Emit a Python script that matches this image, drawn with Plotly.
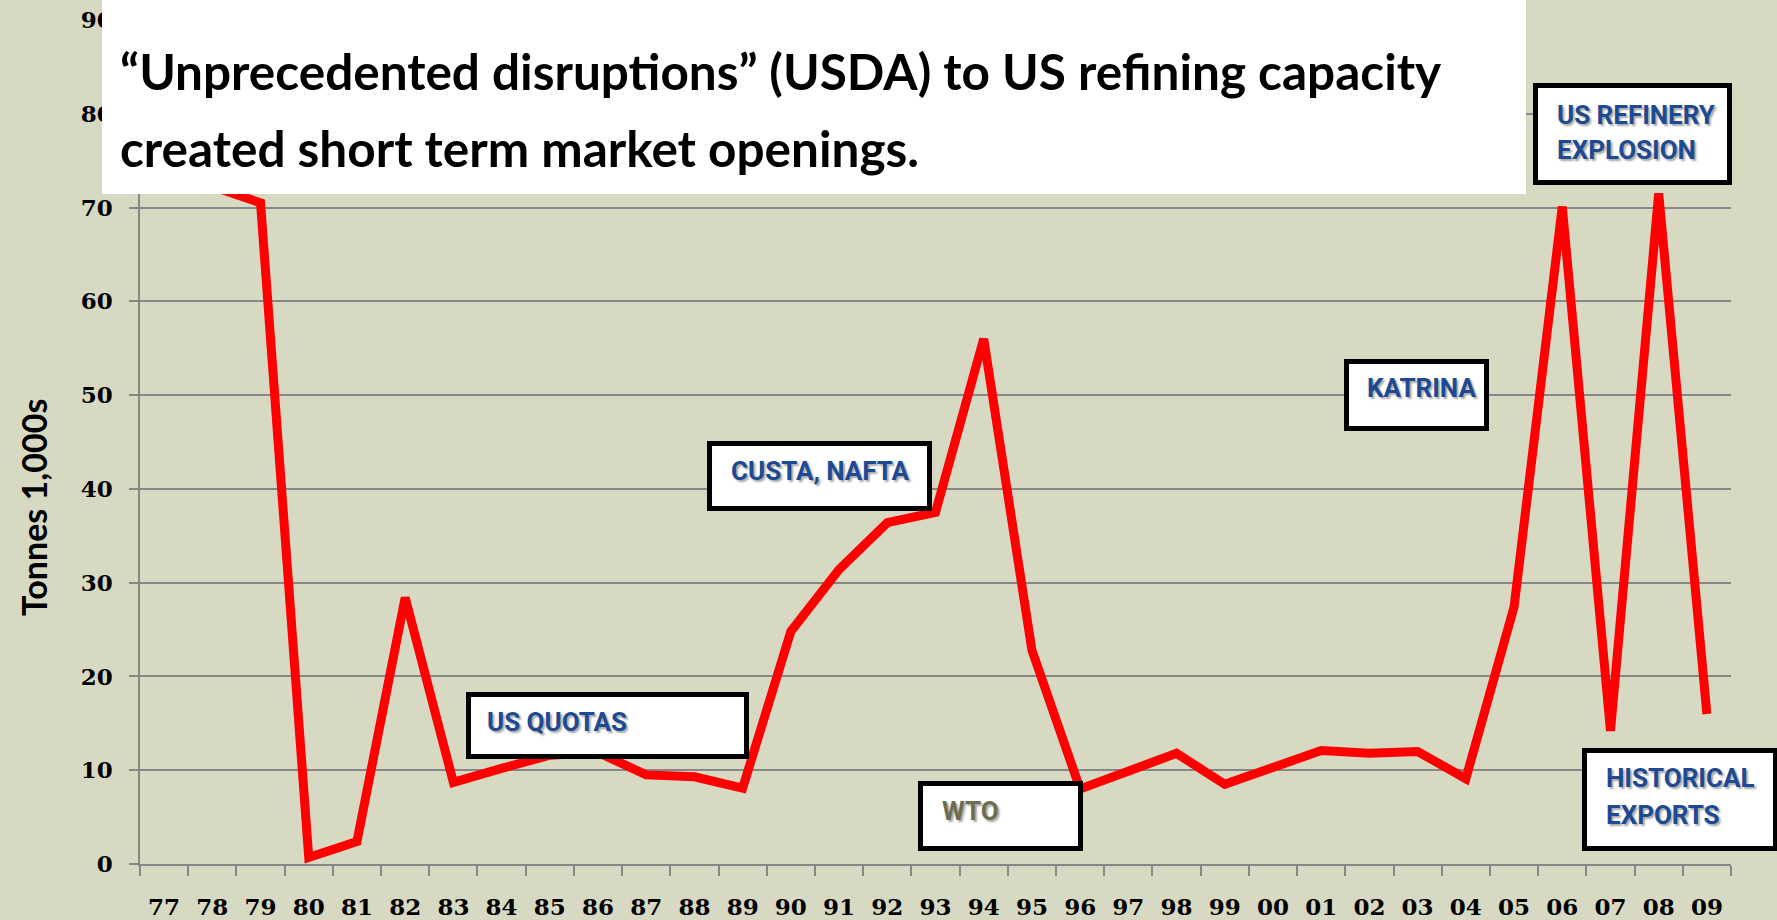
import plotly.graph_objects as go

# ---------------- data ----------------
years = ["77", "78", "79", "80", "81", "82", "83", "84", "85", "86", "87", "88",
         "89", "90", "91", "92", "93", "94", "95", "96", "97", "98", "99", "00",
         "01", "02", "03", "04", "05", "06", "07", "08", "09"]
exports = [74.0, 72.3, 70.5, 0.7, 2.4, 28.4, 8.7, 10.2, 11.6, 11.9, 9.5, 9.3,
           8.1, 24.8, 31.4, 36.4, 37.5, 56.0, 22.8, 8.0, 10.0, 11.8, 8.5, 10.3,
           12.1, 11.8, 12.0, 9.1, 27.4, 70.1, 14.2, 71.5, 16.0]
y_ticks = [0, 10, 20, 30, 40, 50, 60, 70, 80, 90]
y_title = "Tonnes 1,000s"
headline = ["\u201cUnprecedented disruptions\u201d (USDA) to US refining capacity",
            "created short term market openings."]
event_labels = ["US QUOTAS", "WTO", "CUSTA, NAFTA", "KATRINA",
                "US REFINERY", "EXPLOSION", "HISTORICAL", "EXPORTS"]

# ---------------- layout geometry (pixels) ----------------
W, H = 1777, 920
X0, X1 = 140, 1731      # plot area left/right
Y1, Y0 = 20, 864        # plot area top/bottom

def px(x):
    return (x - X0) / (X1 - X0)

def py(y):
    return (Y0 - y) / (Y0 - Y1)

BG = "#D8D9C2"
GRID = "#878787"
BLUE = "#1C4A93"
OLIVE = "#6B6E4E"
LABEL_FONT = "Roboto, Liberation Sans, sans-serif"
TICK_FONT = "DejaVu Serif, serif"
HEAD_FONT = "Lato, Noto Sans, sans-serif"

fig = go.Figure()
fig.add_trace(go.Scatter(
    x=years, y=exports, mode="lines",
    line=dict(color="#FF0000", width=9),
    hoverinfo="skip", showlegend=False,
))

shapes = []
annotations = []

def box(x0, y0, x1, y1, lw=5):
    shapes.append(dict(type="rect", xref="paper", yref="paper",
                       x0=px(x0 + lw / 2), x1=px(x1 - lw / 2),
                       y0=py(y1 - lw / 2), y1=py(y0 + lw / 2),
                       line=dict(color="black", width=lw),
                       fillcolor="white", layer="above"))

def label(text, x, y, color=BLUE, size=26):
    annotations.append(dict(text=text, xref="paper", yref="paper",
                            x=px(x), y=py(y), xanchor="left", yanchor="middle",
                            showarrow=False,
                            font=dict(family=LABEL_FONT, size=size, color=color,
                                      weight="bold",
                                      shadow="2px 2px 2px rgba(0,0,0,0.35)")))

# headline white panel
shapes.append(dict(type="rect", xref="paper", yref="paper",
                   x0=px(102), x1=px(1526), y0=py(194), y1=py(-10),
                   line=dict(width=0), fillcolor="white", layer="above"))
for txt, yc in zip(headline, [71, 148]):
    annotations.append(dict(text=txt, xref="paper", yref="paper",
                            x=px(118), y=py(yc), xanchor="left", yanchor="middle",
                            showarrow=False,
                            font=dict(family=HEAD_FONT, size=49.5, color="black",
                                      weight="bold")))

# event boxes
box(466, 692, 749, 759)
box(918, 781, 1083, 851)
box(707, 441, 932, 511)
box(1344, 359, 1489, 431)
box(1533, 83, 1732, 185)
box(1582, 748, 1778, 851)

label(event_labels[0], 485, 722)
label(event_labels[1], 940, 811, color=OLIVE)
label(event_labels[2], 729, 471)
label(event_labels[3], 1365, 388)
label(event_labels[4], 1555, 114.5)
label(event_labels[5], 1555, 150)
label(event_labels[6], 1604, 778)
label(event_labels[7], 1604, 815)

# y-axis title
annotations.append(dict(text=y_title, xref="paper", yref="paper",
                        x=px(33), y=py(508), xanchor="center", yanchor="middle",
                        textangle=-90, showarrow=False,
                        font=dict(family=HEAD_FONT, size=34, color="black",
                                  weight="bold")))

fig.update_layout(
    width=W, height=H,
    margin=dict(l=X0, r=W - X1, t=Y1, b=H - Y0, pad=0, autoexpand=False),
    paper_bgcolor=BG, plot_bgcolor=BG,
    shapes=shapes, annotations=annotations,
    showlegend=False,
)
fig.update_xaxes(
    type="category", categoryorder="array", categoryarray=years,
    range=[-0.5, len(years) - 0.5], automargin=False,
    showgrid=False, zeroline=False,
    showline=True, linecolor=GRID, linewidth=2,
    ticks="outside", tickson="boundaries", ticklen=10, tickcolor=GRID, tickwidth=2,
    tickfont=dict(family=TICK_FONT, size=23, color="black", weight="bold"),
    ticklabelstandoff=21,
)
fig.update_yaxes(
    range=[0, 90], tickvals=y_ticks, automargin=False,
    showgrid=True, gridcolor=GRID, gridwidth=1.5,
    zeroline=False,
    showline=True, linecolor=GRID, linewidth=1.5,
    ticks="outside", ticklen=9, tickcolor=GRID, tickwidth=1.5,
    tickfont=dict(family=TICK_FONT, size=23, color="black", weight="bold"),
    ticklabelstandoff=12,
)

fig.write_html(
    "out.html",
    config={"displayModeBar": False},
    post_script="document.body.style.margin='0';"
                "document.body.style.background='" + BG + "';"
                "document.body.style.overflow='hidden';",
)
